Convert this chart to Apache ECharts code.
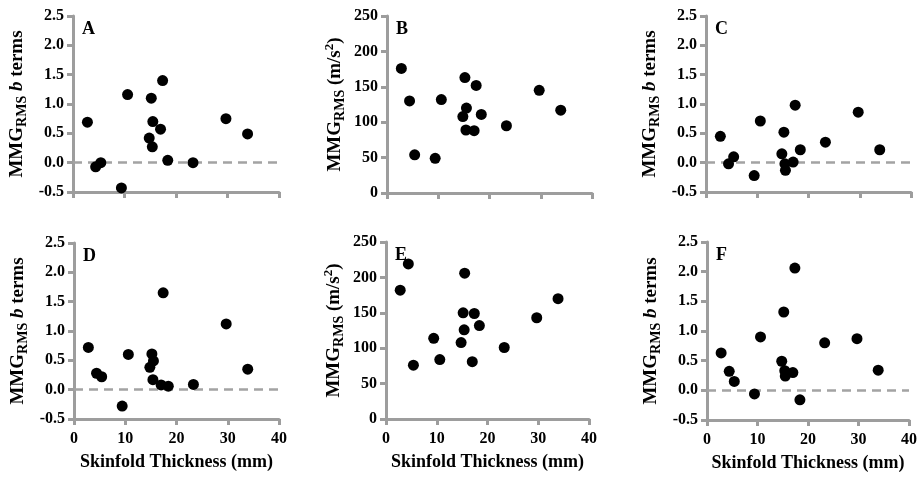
<!DOCTYPE html>
<html>
<head>
<meta charset="utf-8">
<script src="https://cdn.jsdelivr.net/npm/echarts@6/dist/echarts.min.js"></script>
<style>
html,body{margin:0;padding:0;background:#fff;}
#c{width:920px;height:477px;}
</style>
</head>
<body>
<div id="c"></div>
<script>
// ---- data ----
const skinfold = [2.8, 4.4, 5.4, 9.4, 10.6, 14.8, 15.2, 15.4, 15.5, 17.0, 17.4, 18.4, 23.3, 29.7, 33.9];
const panelA = [0.69, -0.07, 0.00, -0.43, 1.16, 0.42, 1.10, 0.27, 0.70, 0.57, 1.40, 0.04, 0.00, 0.75, 0.49];
const panelB = [176, 130, 54, 49, 132, 108, 163, 89, 120, 88, 152, 111, 95, 145, 117];
const panelC = [0.45, -0.02, 0.10, -0.22, 0.71, 0.15, 0.52, -0.02, -0.13, 0.01, 0.98, 0.22, 0.35, 0.86, 0.22];
const panelD = [0.72, 0.28, 0.22, -0.28, 0.60, 0.38, 0.61, 0.17, 0.49, 0.08, 1.65, 0.06, 0.09, 1.12, 0.35];
const panelE = [182, 219, 76, 114, 84, 108, 150, 126, 206, 81, 149, 132, 101, 143, 170];
const panelF = [0.63, 0.32, 0.15, -0.06, 0.90, 0.49, 1.32, 0.33, 0.24, 0.30, 2.06, -0.16, 0.80, 0.87, 0.34];

const xTicks = [0, 10, 20, 30, 40];
const bTermTicks = [-0.5, 0.0, 0.5, 1.0, 1.5, 2.0, 2.5];
const accelTicks = [0, 50, 100, 150, 200, 250];

const panelLetters = ['A', 'B', 'C', 'D', 'E', 'F'];
const xTitle = 'Skinfold Thickness (mm)';
const bTermTitle = '{m|MMG}{s|RMS}{m| }{i|b}{m| terms}';
const accelTitle = '{m|MMG}{s|RMS}{m| (m/s}{p|2}{m|)}';

// ---- layout ----
const FONT = '"Liberation Serif", "Times New Roman", serif';
const AXC = '#9d9d9d';
const panels = [
  {vals: panelA, kind: 'b', grid: {left: 73, top: 16, width: 206, height: 176}, bottom: false},
  {vals: panelB, kind: 'a', grid: {left: 387, top: 16, width: 205, height: 177}, bottom: false},
  {vals: panelC, kind: 'b', grid: {left: 706, top: 16, width: 205, height: 176}, bottom: false},
  {vals: panelD, kind: 'b', grid: {left: 74, top: 243, width: 205, height: 176}, bottom: true},
  {vals: panelE, kind: 'a', grid: {left: 386, top: 242, width: 203, height: 177}, bottom: true},
  {vals: panelF, kind: 'b', grid: {left: 707, top: 242, width: 203, height: 178}, bottom: true}
];

const richName = {
  m: {fontFamily: FONT, fontWeight: 'bold', fontSize: 19, color: '#000', lineHeight: 24},
  i: {fontFamily: FONT, fontWeight: 'bold', fontStyle: 'italic', fontSize: 19, color: '#000', lineHeight: 24},
  s: {fontFamily: FONT, fontWeight: 'bold', fontSize: 14, color: '#000', verticalAlign: 'bottom', lineHeight: 24},
  p: {fontFamily: FONT, fontWeight: 'bold', fontSize: 13, color: '#000', verticalAlign: 'top', lineHeight: 24}
};

const grids = [], xAxes = [], yAxes = [], series = [], titles = [];
panels.forEach((p, k) => {
  grids.push(Object.assign({containLabel: false}, p.grid));
  xAxes.push({
    type: 'value', gridIndex: k,
    min: xTicks[0], max: xTicks[xTicks.length - 1], interval: xTicks[1] - xTicks[0],
    splitLine: {show: false},
    axisLine: {show: true, onZero: false, lineStyle: {color: AXC, width: 3}},
    axisTick: {show: true, length: 6, lineStyle: {color: AXC, width: 3}},
    axisLabel: {show: p.bottom, margin: 12, fontFamily: FONT, fontWeight: 'bold', fontSize: 16, color: '#000'},
    name: p.bottom ? xTitle : '',
    nameLocation: 'middle', nameGap: 34,
    nameTextStyle: {fontFamily: FONT, fontWeight: 'bold', fontSize: 18, color: '#000'}
  });
  const ticks = p.kind === 'b' ? bTermTicks : accelTicks;
  yAxes.push({
    type: 'value', gridIndex: k,
    min: ticks[0], max: ticks[ticks.length - 1], interval: ticks[1] - ticks[0],
    splitLine: {show: false},
    axisLine: {show: true, onZero: false, lineStyle: {color: AXC, width: 3}},
    axisTick: {show: true, length: 6, lineStyle: {color: AXC, width: 3}},
    axisLabel: {
      margin: 9, fontFamily: FONT, fontWeight: 'bold', fontSize: 16, color: '#000',
      formatter: v => p.kind === 'b' ? v.toFixed(1) : String(v)
    },
    name: p.kind === 'b' ? bTermTitle : accelTitle,
    nameLocation: 'middle', nameRotate: 90,
    nameGap: p.kind === 'b' ? 44 : 40,
    nameTextStyle: {rich: richName}
  });
  const s = {
    type: 'scatter', xAxisIndex: k, yAxisIndex: k,
    symbol: 'circle', symbolSize: 11,
    itemStyle: {color: '#000', opacity: 1},
    emphasis: {disabled: true},
    data: skinfold.map((x, i) => [x, p.vals[i]]),
    z: 3
  };
  if (p.kind === 'b') {
    s.markLine = {
      silent: true, symbol: ['none', 'none'], label: {show: false},
      lineStyle: {color: '#a3a3a3', width: 2.5, type: [9, 6], opacity: 1},
      data: [{yAxis: 0}], z: 2
    };
  }
  series.push(s);
  titles.push({
    text: panelLetters[k],
    left: p.grid.left + 9, top: p.grid.top + 4,
    textStyle: {fontFamily: FONT, fontWeight: 'bold', fontSize: 18, color: '#000'},
    padding: 0
  });
});

const chart = echarts.init(document.getElementById('c'), null, {renderer: 'canvas'});
chart.setOption({
  animation: false,
  backgroundColor: '#fff',
  title: titles,
  grid: grids,
  xAxis: xAxes,
  yAxis: yAxes,
  series: series
});
</script>
</body>
</html>
